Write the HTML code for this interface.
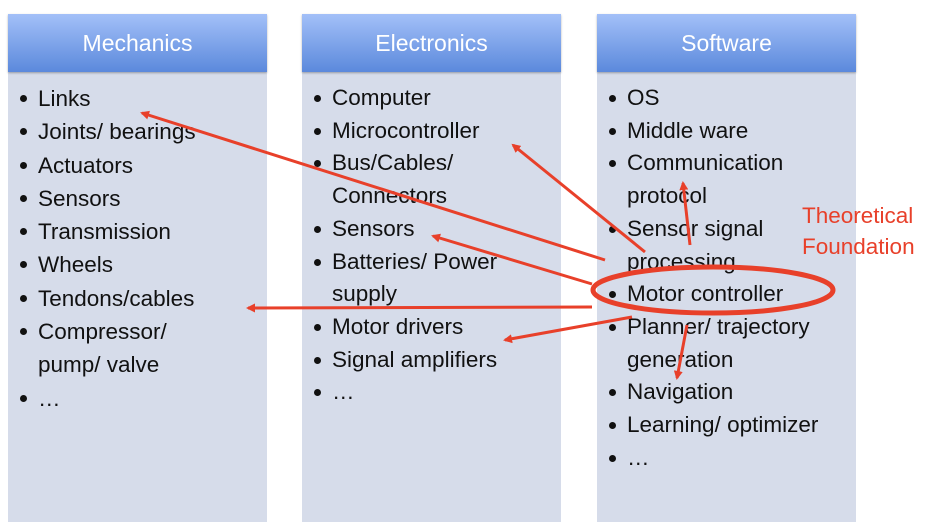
<!DOCTYPE html>
<html><head><meta charset="utf-8"><style>
body{margin:0;width:933px;height:532px;background:#fff;position:relative;overflow:hidden;font-family:"Liberation Sans",sans-serif}
.col{position:absolute;top:14px;width:259px;height:508px;background:#d6dcea}
.hd{height:58px;background:linear-gradient(#a3c0f8,#5b89dc);color:#fff;font-size:23px;text-align:center;line-height:58px;box-shadow:0 1px 2px rgba(0,0,0,.3)}
ul{margin:0;padding:10px 0 0 30px;list-style:none;font-size:22.5px;color:#111;line-height:32.7px;white-space:nowrap}
li{position:relative}
li:before{content:"";position:absolute;left:-18px;top:13px;width:7px;height:7px;border-radius:50%;background:#111}
.nb:before{display:none}
</style></head><body>
<div class="col" style="left:8px"><div class="hd">Mechanics</div><ul style="line-height:33.3px">
<li>Links</li><li>Joints/ bearings</li><li>Actuators</li><li>Sensors</li><li>Transmission</li><li>Wheels</li><li>Tendons/cables</li><li>Compressor/</li><li class="nb">pump/ valve</li><li>…</li></ul></div>
<div class="col" style="left:302px"><div class="hd">Electronics</div><ul>
<li>Computer</li><li>Microcontroller</li><li>Bus/Cables/</li><li class="nb">Connectors</li><li>Sensors</li><li>Batteries/ Power</li><li class="nb">supply</li><li>Motor drivers</li><li>Signal amplifiers</li><li>…</li></ul></div>
<div class="col" style="left:597px"><div class="hd">Software</div><ul>
<li>OS</li><li>Middle ware</li><li>Communication</li><li class="nb">protocol</li><li>Sensor signal</li><li class="nb">processing</li><li>Motor controller</li><li>Planner/ trajectory</li><li class="nb">generation</li><li>Navigation</li><li>Learning/ optimizer</li><li>…</li></ul></div>
<div style="position:absolute;left:802px;top:200px;color:#e8402a;font-size:22.5px;line-height:31px">Theoretical<br>Foundation</div>
<svg width="933" height="532" style="position:absolute;left:0;top:0">
<defs><marker id="a" markerWidth="9" markerHeight="9" refX="7" refY="4.5" orient="auto" markerUnits="userSpaceOnUse"><path d="M0,0L9,4.5L0,9z" fill="#e8402a"/></marker></defs>
<g stroke="#e8402a" stroke-width="3" fill="none" marker-end="url(#a)">
<line x1="605" y1="260" x2="142" y2="113"/>
<line x1="645" y1="252" x2="513" y2="145"/>
<line x1="592" y1="284" x2="433" y2="236"/>
<line x1="592" y1="307" x2="248" y2="308"/>
<line x1="632" y1="317" x2="505" y2="340"/>
<line x1="690" y1="245" x2="683" y2="183"/>
<line x1="687" y1="325" x2="677" y2="378"/>
</g>
<ellipse cx="713" cy="290" rx="120" ry="23" fill="none" stroke="#e8402a" stroke-width="5"/>
</svg>
</body></html>
